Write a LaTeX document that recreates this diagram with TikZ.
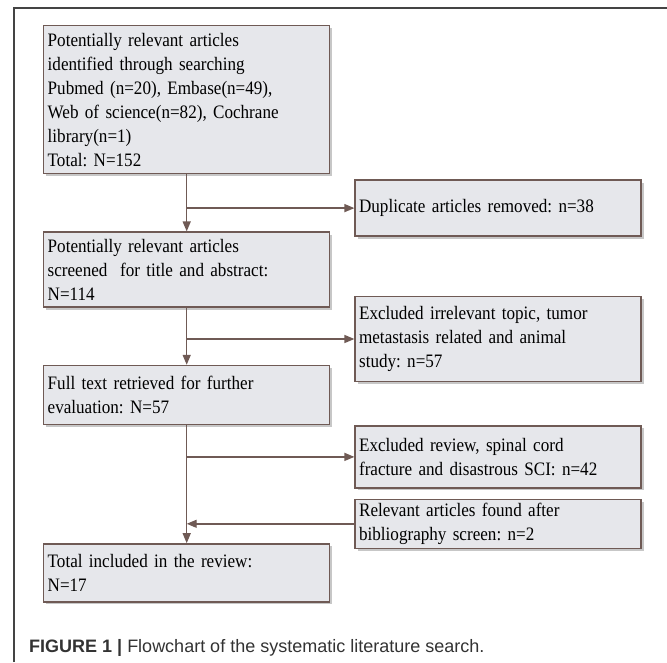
\documentclass[tikz,border=0pt]{standalone}
\usepackage{fontspec}
\setmainfont{Liberation Serif}[FakeStretch=0.9]
\newfontfamily\capfont{Liberation Sans}
\usepackage{xcolor}
\usepackage{tikz}
\usetikzlibrary{arrows.meta,positioning,shadows}

\definecolor{boxfill}{HTML}{E6E7EB}
\definecolor{boxline}{HTML}{6F5A55}
\definecolor{frameline}{HTML}{444444}
\definecolor{captext}{HTML}{333333}
\frenchspacing

\begin{document}
\begin{tikzpicture}[
  x=1pt, y=1pt,
  box/.style={draw=boxline, line width=1.4pt, fill=boxfill, align=left, text width=278pt,
    inner xsep=4pt, inner ysep=0pt, font=\fontsize{19}{24}\selectfont,
    drop shadow={shadow xshift=2.5pt, shadow yshift=-2.5pt, fill=black!22, opacity=1}},
  line/.style={-{Triangle[length=10pt,width=8pt]}, line width=1.4pt, draw=boxline, color=boxline}
]
\useasboundingbox (0,-662) rectangle (667,0);
\draw[frameline, line width=1.8pt] (14,-662) -- (14,-8) -- (667,-8);

% main column
\node[box, anchor=north west, minimum height=148pt] (search) at (43,-25)
  {Potentially relevant articles\\identified through searching\\Pubmed (n=20), Embase(n=49),\\Web of science(n=82), Cochrane\\library(n=1)\\Total: N=152};
\node[box, below=57pt of search, minimum height=75pt] (screened)
  {Potentially relevant articles\\screened\ \ for title and abstract:\\N=114};
\node[box, below=57pt of screened, minimum height=59pt] (fulltext)
  {Full text retrieved for further\\evaluation: N=57};
\node[box, below=118pt of fulltext, minimum height=58pt] (included)
  {Total included in the review:\\N=17};

% side column
\node[box, below right=5pt and 24pt of search, minimum height=56pt] (duplicate)
  {Duplicate articles removed: n=38};
\node[box, below=59pt of duplicate, minimum height=85pt] (irrelevant)
  {Excluded irrelevant topic, tumor\\metastasis related and animal\\study: n=57};
\node[box, below=43pt of irrelevant, minimum height=62pt] (review)
  {Excluded review, spinal cord\\fracture and disastrous SCI: n=42};
\node[box, below=10pt of review, minimum height=49pt] (biblio)
  {Relevant articles found after\\bibliography screen: n=2};

\draw[line] (search) -- (screened);
\draw[line] (screened) -- (fulltext);
\draw[line] (fulltext) -- (included);
\draw[line] (duplicate.west -| search.south) -- (duplicate.west);
\draw[line] (irrelevant.west -| screened.south) -- (irrelevant.west);
\draw[line] (review.west -| fulltext.south) -- (review.west);
\draw[line] (biblio.west) -- (biblio.west -| fulltext.south);

\node[anchor=base west, text=captext, font=\capfont\fontsize{18}{21}\selectfont, inner sep=0pt] (caption) at (29,-652)
  {\textbf{FIGURE 1 |} Flowchart of the systematic literature search.};
\end{tikzpicture}
\end{document}
